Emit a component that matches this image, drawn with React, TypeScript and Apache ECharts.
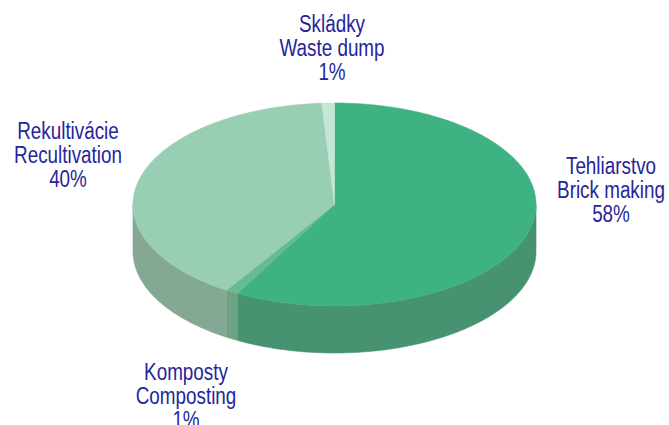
import React, { useEffect, useRef } from "react";
import * as echarts from "echarts";

// ---- data ----
const CATEGORIES_SK = ["Tehliarstvo", "Komposty", "Rekultivácie", "Skládky"];
const CATEGORIES_EN = ["Brick making", "Composting", "Recultivation", "Waste dump"];
const VALUES = [58, 1, 40, 1];

// ---- styles / layout ----
const TOP_COLORS = ["#3fb283", "#66bb91", "#98ceb3", "#c6e6d5"];
const SIDE_COLORS = ["#479270", "#6da283", "#85a894", "#a9c9b8"];
const LABEL_COLOR = "#25259b";
const LABEL_ANCHORS = [
  [611, 190],
  [186, 396],
  [68, 155],
  [332, 48],
];
const GEO = { cx: 334.5, cy: 204.5, rx: 201.5, ry: 101.5, depth: 47 };

const FONT = "'Liberation Sans', Arial, sans-serif";
const CONDENSE = 0.82;

function pt(deg: number, dy = 0): number[] {
  const a = (deg * Math.PI) / 180;
  return [GEO.cx + GEO.rx * Math.sin(a), GEO.cy - GEO.ry * Math.cos(a) + dy];
}

function arcPoints(a0: number, a1: number, dy = 0): number[][] {
  const pts: number[][] = [];
  const steps = Math.max(2, Math.ceil((a1 - a0) / 0.5));
  for (let i = 0; i <= steps; i++) pts.push(pt(a0 + ((a1 - a0) * i) / steps, dy));
  return pts;
}

export default function App() {
  const ref = useRef<HTMLDivElement>(null);
  useEffect(() => {
    if (!ref.current) return;
    const chart = echarts.init(ref.current, undefined, { renderer: "svg" });
    const total = VALUES.reduce((s, v) => s + v, 0);
    const starts: number[] = [];
    let acc = 0;
    VALUES.forEach((v) => {
      starts.push((acc / total) * 360);
      acc += v;
    });

    const renderItem = (params: any, api: any) => {
      const i = params.dataIndex;
      const v = api.value(0);
      const a0 = starts[i];
      const a1 = a0 + (v / total) * 360;
      const children: any[] = [];
      // front side wall (visible part: 90..270 deg)
      const s0 = Math.max(a0, 90);
      const s1 = Math.min(a1, 270);
      if (s1 > s0) {
        const topEdge = arcPoints(s0, s1, 0);
        const botEdge = arcPoints(s0, s1, GEO.depth).reverse();
        children.push({
          type: "polygon",
          z2: 1,
          shape: { points: topEdge.concat(botEdge) },
          style: { fill: SIDE_COLORS[i], stroke: SIDE_COLORS[i], lineWidth: 0.6 },
        });
      }
      // top face
      children.push({
        type: "polygon",
        z2: 10,
        shape: { points: [[GEO.cx, GEO.cy]].concat(arcPoints(a0, a1, 0)) },
        style: { fill: TOP_COLORS[i], stroke: TOP_COLORS[i], lineWidth: 0.6 },
      });
      // label
      const [lx, ly] = LABEL_ANCHORS[i];
      children.push({
        type: "text",
        z2: 20,
        x: lx,
        y: ly,
        scaleX: CONDENSE,
        style: {
          text: `${CATEGORIES_SK[i]}\n${CATEGORIES_EN[i]}\n${Math.round((v / total) * 100)}%`,
          x: 0,
          y: 0,
          fill: LABEL_COLOR,
          fontSize: 23,
          fontFamily: FONT,
          lineHeight: 24,
          align: "center",
          verticalAlign: "middle",
        },
      });
      return { type: "group", children };
    };

    chart.setOption({
      animation: false,
      backgroundColor: "#ffffff",
      series: [
        {
          type: "custom",
          coordinateSystem: "none",
          renderItem,
          data: VALUES.map((v, i) => ({ value: [v], name: CATEGORIES_SK[i] })),
        },
      ],
    });
    return () => chart.dispose();
  }, []);
  return (
    <div
      ref={ref}
      style={{ position: "fixed", left: 0, top: 0, width: 669, height: 425 }}
    />
  );
}
